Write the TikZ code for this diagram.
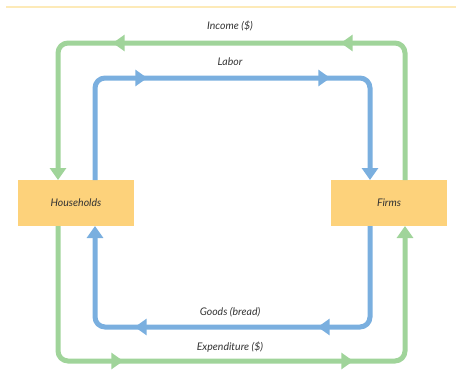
\documentclass[tikz,border=0pt]{standalone}
\usepackage{fontspec}
\setmainfont{Lato}
\usetikzlibrary{positioning, arrows.meta, decorations.markings}
\definecolor{boxfill}{HTML}{FDD27B}
\definecolor{loopgreen}{HTML}{A0D49A}
\definecolor{loopblue}{HTML}{7AAFDF}
\definecolor{rulecol}{HTML}{FDEAB8}
\definecolor{txt}{HTML}{333333}
\begin{document}
\begin{tikzpicture}[x=1pt, y=-1pt, line width=5pt]
% Block styles
\tikzstyle{agent}=[inner sep=0pt, outer sep=0pt, fill=boxfill, text=txt, align=center, minimum width=116pt, minimum height=46pt, font=\itshape\fontsize{10.5}{12}\selectfont]
\tikzstyle{lbl}=[inner sep=0pt, text=txt, font=\itshape\fontsize{10.5}{12}\selectfont]
\tikzstyle{money}=[draw=loopgreen, rounded corners=10pt, -{Triangle[length=12pt, width=16pt]}]
\tikzstyle{real}=[draw=loopblue, rounded corners=10pt, -{Triangle[length=12pt, width=16pt]}]
\useasboundingbox (0,0) rectangle (456,380);
% Top rule
\draw[rulecol, line width=2pt] (6,7) -- (456,7);
% Agents
\node[agent] (hh) at (76,203) {Households};
\node[agent] (fm) at (389,203) {Firms};
% Labels
\node[lbl] (inc) at (230,26) {Income (\$)};
\node[lbl] (lab) at (230,62) {Labor};
\node[lbl] (goo) at (230,312) {Goods (bread)};
\node[lbl] (exp) at (230,347) {Expenditure (\$)};
% Arrows
\path[money, decoration={markings, mark=at position 196pt with {\arrow{Triangle[length=12pt, width=16pt]}}, mark=at position 426pt with {\arrow{Triangle[length=12pt, width=16pt]}}}, postaction={decorate}]
  ([xshift=-18pt]hh.south) -- ++(0,135) -| ([xshift=16pt]fm.south);
\path[money, decoration={markings, mark=at position 197pt with {\arrow{Triangle[length=12pt, width=16pt]}}, mark=at position 425pt with {\arrow{Triangle[length=12pt, width=16pt]}}}, postaction={decorate}]
  ([xshift=16pt]fm.north) -- ++(0,-137) -| ([xshift=-18pt]hh.north);
\path[real, decoration={markings, mark=at position 150pt with {\arrow{Triangle[length=12pt, width=16pt]}}, mark=at position 333pt with {\arrow{Triangle[length=12pt, width=16pt]}}}, postaction={decorate}]
  ([xshift=19pt]hh.north) -- ++(0,-102) -| ([xshift=-19pt]fm.north);
\path[real, decoration={markings, mark=at position 149pt with {\arrow{Triangle[length=12pt, width=16pt]}}, mark=at position 332pt with {\arrow{Triangle[length=12pt, width=16pt]}}}, postaction={decorate}]
  ([xshift=-19pt]fm.south) -- ++(0,101) -| ([xshift=19pt]hh.south);
\end{tikzpicture}
\end{document}
